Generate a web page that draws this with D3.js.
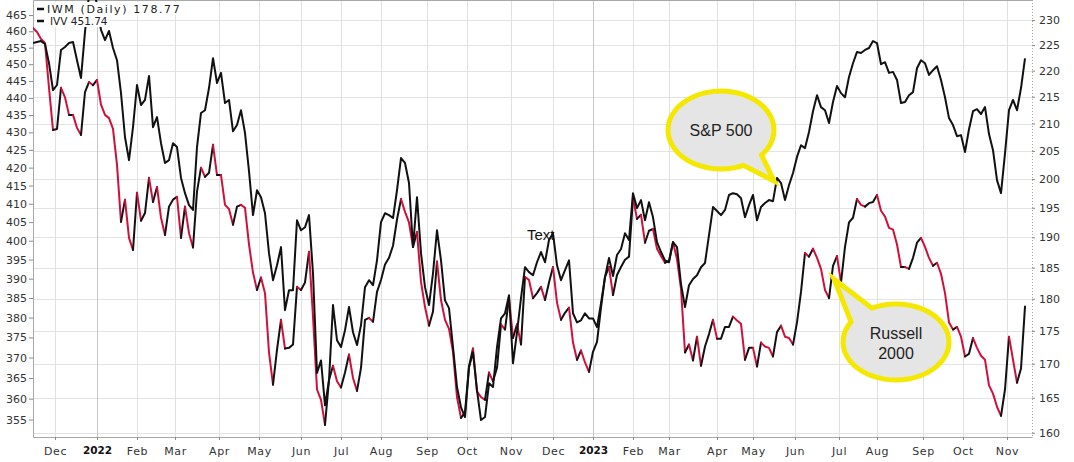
<!DOCTYPE html>
<html>
<head>
<meta charset="utf-8">
<script src="https://cdn.jsdelivr.net/npm/d3@7"></script>
<style>
  body { margin: 0; background: #fff; }
  svg { display: block; }
  .axis text { font-family: "DejaVu Sans", Verdana, sans-serif; font-size: 11px; fill: #333; }
  .axis line { stroke: #888; }
  .axis path { stroke: none; }
</style>
</head>
<body>
<script>
// IVV (S&P 500), left log axis - one close every 2 trading days
var ivv = [
  456.4, 456.7, 457.0, 456.1, 450.3, 442.3, 443.8, 454.3, 455.2, 456.4,
  456.7, 451.2, 445.9, 459.8, 471.3, 474.4, 468.1, 460.4, 457.3, 460.1,
  454.9, 451.2, 441.4, 428.6, 422.1, 431.5, 443.8, 437.9, 439.4, 446.5,
  431.5, 434.4, 426.9, 421.3, 422.1, 426.9, 425.8, 417.1, 412.9, 409.6,
  408.3, 425.8, 435.6, 436.4, 442.9, 451.8, 444.4, 447.4, 438.5, 439.4,
  430.3, 432.1, 436.4, 429.8, 419.0, 406.9, 413.7, 411.8, 407.4, 396.7,
  389.6, 393.5, 398.3, 381.9, 387.0, 387.0, 405.5, 402.8, 403.6, 406.9,
  391.4, 366.2, 369.3, 358.4, 364.4, 383.2, 374.3, 372.6, 376.8, 382.7,
  376.3, 373.1, 378.1, 387.8, 389.6, 388.3, 394.8, 405.0, 407.4, 406.9,
  406.1, 413.7, 422.7, 421.3, 415.7, 398.3, 411.8, 396.7, 387.8, 383.2,
  391.4, 402.8, 394.8, 384.4, 382.4, 372.6, 362.8, 357.9, 355.6, 367.6,
  371.3, 362.0, 354.9, 355.6, 363.7, 362.8, 372.6, 379.8, 381.1, 385.7,
  368.6, 376.3, 385.0, 393.0, 391.7, 390.9, 394.3, 397.0, 394.3, 400.2,
  402.0, 393.5, 389.6, 392.2, 394.8, 381.1, 378.8, 379.3, 381.1, 379.8,
  379.8, 377.6, 383.6, 390.4, 395.4, 390.7, 396.2, 397.8, 402.0, 400.2,
  412.9, 408.8, 411.0, 405.5, 410.4, 406.3, 399.6, 397.0, 394.8, 394.3,
  399.6, 398.3, 388.6, 382.7, 388.3, 389.9, 390.9, 393.0, 394.1, 401.5,
  409.1, 408.0, 406.9, 408.3, 412.4, 412.9, 412.6, 411.5, 406.3, 409.6,
  412.4, 405.5, 409.1, 410.2, 411.0, 410.7, 417.1, 415.7, 411.0, 415.1,
  418.5, 423.0, 426.3, 425.5, 430.1, 436.1, 440.8, 437.3, 436.4, 432.7,
  438.8, 443.5, 441.4, 440.2, 446.2, 450.3, 453.7, 453.4, 454.3, 454.9,
  457.0, 456.4, 450.0, 450.6, 447.4, 447.7, 445.3, 438.5, 438.8, 440.8,
  441.7, 448.8, 451.2, 450.3, 446.8, 448.2, 449.4, 445.3, 440.2, 434.1,
  432.1, 428.9, 429.2, 424.4, 430.9, 436.1, 436.7, 435.3, 437.3, 429.5,
  424.9, 416.5, 412.9, 424.0, 436.4, 439.4, 436.4, 442.9, 451.74
];

// IWM (Russell 2000), right log axis, same dates
var iwm = [
  228.4, 227.6, 226.2, 225.4, 216.7, 208.8, 209.0, 216.7, 214.9, 211.6,
  211.6, 209.2, 207.9, 215.9, 217.8, 217.2, 218.2, 213.5, 211.6, 211.0,
  209.0, 202.5, 192.6, 196.4, 189.9, 187.9, 197.6, 192.8, 194.1, 200.2,
  196.0, 198.6, 193.3, 190.4, 195.2, 196.4, 196.9, 189.9, 195.2, 190.7,
  188.3, 197.8, 202.0, 200.4, 201.1, 206.1, 200.7, 200.7, 195.5, 194.8,
  192.1, 195.2, 195.5, 195.0, 188.8, 184.2, 181.4, 183.4, 180.9, 171.7,
  166.9, 172.1, 176.7, 172.3, 172.4, 172.9, 181.9, 181.4, 182.6, 187.6,
  177.2, 166.2, 164.7, 161.1, 167.6, 169.7, 167.4, 166.5, 168.7, 171.4,
  167.9, 166.0, 169.4, 176.7, 177.0, 176.4, 181.1, 183.0, 185.5, 186.6,
  188.6, 193.0, 196.5, 194.3, 192.5, 188.4, 190.9, 182.7, 178.7, 175.8,
  178.0, 186.0, 179.8, 176.7, 175.3, 171.8, 165.1, 162.1, 162.9, 169.6,
  172.3, 165.9, 165.1, 164.7, 168.7, 167.4, 169.4, 176.0, 175.2, 180.1,
  173.9, 176.0, 172.9, 183.5, 183.0, 180.1, 180.9, 181.9, 179.8, 182.6,
  185.1, 179.4, 176.7, 177.8, 178.6, 173.2, 170.6, 172.0, 170.2, 168.8,
  171.8, 173.3, 178.6, 183.5, 185.1, 180.6, 183.8, 185.1, 186.3, 186.8,
  196.7, 193.1, 193.8, 189.1, 191.1, 191.4, 188.1, 186.9, 185.8, 186.1,
  189.2, 186.4, 181.6, 171.7, 172.9, 170.5, 174.1, 169.7, 172.6, 174.5,
  176.7, 173.8, 173.8, 175.6, 175.6, 177.2, 176.6, 176.1, 170.6, 172.4,
  172.4, 169.6, 173.2, 172.6, 172.4, 171.1, 174.8, 175.8, 174.1, 173.9,
  172.9, 176.3, 181.1, 187.4, 186.8, 188.1, 186.6, 184.8, 181.4, 180.1,
  185.3, 186.9, 182.6, 188.4, 192.5, 193.3, 196.5, 195.5, 195.2, 195.8,
  196.0, 197.2, 194.5, 193.5, 191.6, 191.3, 188.8, 185.1, 185.1, 184.8,
  186.6, 189.1, 189.9, 188.4, 186.6, 185.3, 185.8, 184.0, 180.9, 176.3,
  175.2, 175.6, 174.1, 171.1, 171.5, 173.9, 172.4, 171.2, 170.6, 166.8,
  165.6, 163.7, 162.4, 166.2, 174.1, 170.6, 167.2, 169.3, 178.77
];
var dayStep = 2; // trading days between two samples

var monthLabels = ["Dec", "2022", "Feb", "Mar", "Apr", "May", "Jun", "Jul", "Aug", "Sep", "Oct", "Nov",
                   "Dec", "2023", "Feb", "Mar", "Apr", "May", "Jun", "Jul", "Aug", "Sep", "Oct", "Nov"];
var monthDays = [11, 32, 52, 71, 93, 113, 134, 154, 174, 197, 217, 239,
                 260, 280, 300, 318, 342, 360, 381, 403, 422, 445, 465, 487];
var leftTicks = [355, 360, 365, 370, 375, 380, 385, 390, 395, 400, 405, 410,
                 415, 420, 425, 430, 435, 440, 445, 450, 455, 460, 465];
var rightTicks = [160, 165, 170, 175, 180, 185, 190, 195, 200, 205, 210, 215, 220, 225, 230];

var red = "#d0103a", black = "#111";
var pLeft = 33, pRight = 1032, pTop = 0, pBottom = 437;

var svg = d3.select("body").append("svg")
    .attr("width", 1074)
    .attr("height", 462);

var x = d3.scaleLinear().domain([0, (ivv.length - 1) * dayStep]).range([33, 1025]);
var yL = d3.scaleLog().domain([350.9, 469.7]).range([pBottom, pTop]);
var yR = d3.scaleLog().domain([159.4, 234.1]).range([pBottom, pTop]);

// grid
svg.append("g").selectAll("line")
    .data(rightTicks)
  .enter().append("line")
    .attr("x1", pLeft).attr("x2", pRight)
    .attr("y1", function(d) { return Math.round(yR(d)) + 0.5; })
    .attr("y2", function(d) { return Math.round(yR(d)) + 0.5; })
    .attr("stroke", "#e3e3e3");

svg.append("g").selectAll("line")
    .data(monthDays)
  .enter().append("line")
    .attr("x1", function(d) { return Math.round(x(d)) + 0.5; })
    .attr("x2", function(d) { return Math.round(x(d)) + 0.5; })
    .attr("y1", pTop).attr("y2", pBottom)
    .attr("stroke", function(d, i) { return /^\d{4}$/.test(monthLabels[i]) ? "#c6c6c6" : "#e0e0e0"; });

// frame: solid on left, top, bottom; dotted on the right
svg.append("path")
    .attr("d", "M" + (pRight + 0.5) + "," + (pTop + 0.5) + "H" + (pLeft + 0.5) +
               "V" + (pBottom + 0.5) + "H" + (pRight + 0.5))
    .attr("fill", "none").attr("stroke", "#a8a8a8");
svg.append("line")
    .attr("x1", pRight + 0.5).attr("x2", pRight + 0.5)
    .attr("y1", pTop).attr("y2", pBottom)
    .attr("stroke", "#a8a8a8").attr("stroke-dasharray", "1,2");

svg.append("clipPath").attr("id", "plot")
  .append("rect")
    .attr("x", pLeft).attr("y", pTop)
    .attr("width", pRight - pLeft).attr("height", pBottom - pTop);

var lines = svg.append("g").attr("clip-path", "url(#plot)");

// IWM, coloured by direction (black up, red down)
var runs = [], cur = null;
for (var i = 1; i < iwm.length; i++) {
  var c = iwm[i] < iwm[i - 1] ? red : black;
  if (!cur || cur.c !== c) { cur = {c: c, pts: [i - 1]}; runs.push(cur); }
  cur.pts.push(i);
}
var iwmLine = d3.line()
    .x(function(i) { return x(i * dayStep); })
    .y(function(i) { return yR(iwm[i]); });

lines.selectAll(".iwm")
    .data(runs)
  .enter().append("path")
    .attr("class", "iwm")
    .attr("d", function(r) { return iwmLine(r.pts); })
    .attr("fill", "none")
    .attr("stroke", function(r) { return r.c; })
    .attr("stroke-width", 2)
    .attr("stroke-linejoin", "round")
    .attr("stroke-linecap", "round");

// IVV
lines.append("path")
    .datum(ivv)
    .attr("d", d3.line()
        .x(function(d, i) { return x(i * dayStep); })
        .y(function(d) { return yL(d); }))
    .attr("fill", "none")
    .attr("stroke", black)
    .attr("stroke-width", 2)
    .attr("stroke-linejoin", "round");

// axes
svg.append("g")
    .attr("class", "axis")
    .attr("transform", "translate(" + pLeft + ",0)")
    .call(d3.axisLeft(yL).tickValues(leftTicks).tickFormat(d3.format("d"))
        .tickSize(4).tickSizeOuter(0).tickPadding(2));

svg.append("g")
    .attr("class", "axis")
    .attr("transform", "translate(" + pRight + ",0)")
    .call(d3.axisRight(yR).tickValues(rightTicks).tickFormat(d3.format("d"))
        .tickSize(3).tickSizeOuter(0).tickPadding(4))
    .selectAll("line").attr("stroke", "#aaa");

var bx = svg.append("g")
    .attr("class", "axis")
    .attr("transform", "translate(0," + pBottom + ")")
    .call(d3.axisBottom(x).tickValues(monthDays)
        .tickFormat(function(d, i) { return monthLabels[i]; })
        .tickSize(3).tickSizeOuter(0).tickPadding(7));
bx.selectAll("text")
    .style("letter-spacing", "0.6px")
    .filter(function(d, i) { return /^\d{4}$/.test(monthLabels[i]); })
    .style("font-weight", "bold")
    .style("font-size", "10.5px")
    .style("letter-spacing", "0px")
    .style("fill", "#111");

// legend
var legend = [
  {label: "IWM (Daily) 178.77", y: 9, size: 11, spacing: 1.6, tx: 47},
  {label: "IVV 451.74", y: 21, size: 10.5, spacing: 0, tx: 50}
];
var lg = svg.append("g");
legend.forEach(function(d) {
  var t = lg.append("text")
      .attr("x", d.tx).attr("y", d.y + 4)
      .style("font-family", "'DejaVu Sans', Verdana, sans-serif")
      .style("font-size", d.size + "px")
      .style("letter-spacing", d.spacing + "px")
      .style("fill", "#222")
      .text(d.label);
  var b = t.node().getBBox();
  lg.insert("rect", "text")
      .attr("x", 35).attr("y", d.y - 7)
      .attr("width", b.x + b.width - 35 + 2).attr("height", 13)
      .attr("fill", "#fff");
  lg.append("line")
      .attr("x1", 37).attr("x2", 44)
      .attr("y1", d.y).attr("y2", d.y)
      .attr("stroke", "#111").attr("stroke-width", 2.5);
});

// callouts
function bubble(cx, cy, rx, ry, a1, a2, tip) {
  var p = function(a) {
    var r = a * Math.PI / 180;
    return [cx + rx * Math.cos(r), cy + ry * Math.sin(r)];
  };
  var s = p(a2), e = p(a1);
  var path = "M" + s + "A" + rx + "," + ry + " 0 1 1 " + e + "L" + tip + "Z";
  svg.append("path")
      .attr("d", path)
      .attr("fill", "#e5e5e5")
      .attr("stroke", "#f4e800")
      .attr("stroke-width", 5)
      .attr("stroke-linejoin", "miter");
}
bubble(721, 130, 53, 39, 40, 65, [774, 181]);
bubble(896, 342, 53, 38, 212 + 360, 243, [834, 279]);

var callText = [
  {t: "S&P 500", x: 721, y: 136},
  {t: "Russell", x: 896, y: 339},
  {t: "2000", x: 896, y: 359}
];
svg.selectAll(".ct")
    .data(callText)
  .enter().append("text")
    .attr("class", "ct")
    .attr("x", function(d) { return d.x; })
    .attr("y", function(d) { return d.y; })
    .attr("text-anchor", "middle")
    .style("font-family", "'Liberation Sans', Arial, sans-serif")
    .style("font-size", "16px")
    .style("fill", "#222")
    .text(function(d) { return d.t; });

svg.append("text")
    .attr("x", 527).attr("y", 240)
    .style("font-family", "'Liberation Sans', Arial, sans-serif")
    .style("font-size", "15px")
    .style("fill", "#111")
    .text("Text");
</script>
</body>
</html>
